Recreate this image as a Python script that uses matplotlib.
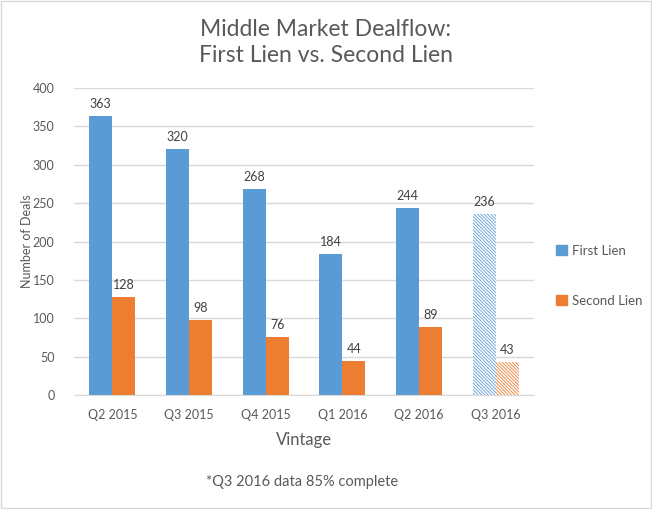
import matplotlib.pyplot as plt
import numpy as np

plt.rcParams['font.family'] = ['Lato', 'DejaVu Sans']

vintages = ['Q2 2015', 'Q3 2015', 'Q4 2015', 'Q1 2016', 'Q2 2016', 'Q3 2016']
first_lien = [363, 320, 268, 184, 244, 236]
second_lien = [128, 98, 76, 44, 89, 43]
partial = [False, False, False, False, False, True]

blue = '#5b9bd5'
orange = '#ed7d31'
text_c = '#595959'

plt.rcParams['hatch.linewidth'] = 0.6

fig = plt.figure(figsize=(6.52, 5.09), dpi=100)
ax = fig.add_axes([0.1135, 0.224, 0.7055, 0.603])

x = np.arange(len(vintages))
w = 0.3
for i in range(len(vintages)):
    if partial[i]:
        ax.bar(x[i] - w / 2, first_lien[i], w, color='white', edgecolor=blue,
               hatch='\\' * 10, linewidth=0, zorder=2)
        ax.bar(x[i] + w / 2, second_lien[i], w, color='white', edgecolor=orange,
               hatch='\\' * 10, linewidth=0, zorder=2)
    else:
        ax.bar(x[i] - w / 2, first_lien[i], w, color=blue, zorder=2)
        ax.bar(x[i] + w / 2, second_lien[i], w, color=orange, zorder=2)
    ax.text(x[i] - w / 2, first_lien[i] + 8, str(first_lien[i]), ha='center',
            va='bottom', fontsize=9, color='#404040')
    ax.text(x[i] + w / 2, second_lien[i] + 8, str(second_lien[i]), ha='center',
            va='bottom', fontsize=9, color='#404040')

ax.set_xlim(-0.5, len(vintages) - 0.5)
ax.set_ylim(0, 400)
ax.set_yticks(range(0, 401, 50))
ax.set_xticks(x)
ax.set_xticklabels(vintages)
ax.tick_params(axis='both', length=0, labelsize=9, colors=text_c)
ax.tick_params(axis='x', pad=10)
ax.tick_params(axis='y', pad=14)
ax.yaxis.grid(True, color='#d9d9d9', linewidth=1, zorder=0)
ax.set_axisbelow(True)
for s in ['top', 'right', 'left']:
    ax.spines[s].set_visible(False)
ax.spines['bottom'].set_color('#d9d9d9')

ax.set_xlabel('Vintage', fontsize=12, color=text_c, labelpad=8)
ax.set_ylabel('Number of Deals', fontsize=9, color=text_c, labelpad=0)

fig.text(0.5, 0.917, 'Middle Market Dealflow:\nFirst Lien vs. Second Lien',
         ha='center', va='center', fontsize=16.5, color=text_c, linespacing=1.3)
fig.text(0.463, 0.053, '*Q3 2016 data 85% complete', ha='center', va='center',
         fontsize=10.5, color=text_c)

h1 = plt.Rectangle((0, 0), 1, 1, color=blue)
h2 = plt.Rectangle((0, 0), 1, 1, color=orange)
fig.legend([h1, h2], ['First Lien', 'Second Lien'], loc='center left',
           bbox_to_anchor=(0.835, 0.458), frameon=False, fontsize=9.5,
           labelcolor=text_c, handlelength=0.8, handleheight=0.8,
           labelspacing=2.9, handletextpad=0.4)

fig.patches.append(plt.Rectangle((0.001, 0.001), 0.997, 0.997, transform=fig.transFigure,
                                 fill=False, edgecolor='#d9d9d9', linewidth=1))

fig.savefig('out.png', dpi=100)
